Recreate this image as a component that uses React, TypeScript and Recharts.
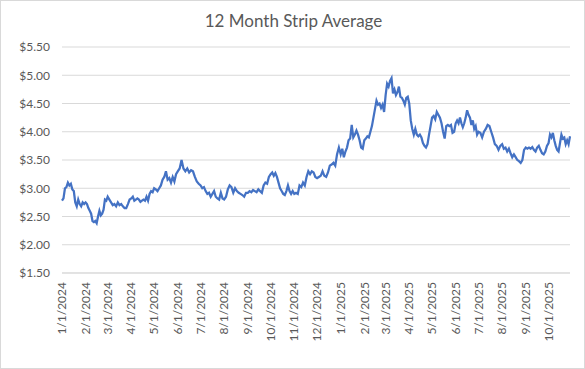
import { LineChart, Line, XAxis, YAxis, CartesianGrid } from 'recharts';

// month start labels on the x axis (also used as tick positions)
const monthLabels = [
  '1/1/2024', '2/1/2024', '3/1/2024', '4/1/2024', '5/1/2024', '6/1/2024',
  '7/1/2024', '8/1/2024', '9/1/2024', '10/1/2024', '11/1/2024', '12/1/2024',
  '1/1/2025', '2/1/2025', '3/1/2025', '4/1/2025', '5/1/2025', '6/1/2025',
  '7/1/2025', '8/1/2025', '9/1/2025', '10/1/2025',
];
const endLabel = '10/31/2025';

const yTicks = [1.5, 2, 2.5, 3, 3.5, 4, 4.5, 5, 5.5];

// readings through each month, $/MMBtu
const jan24 = [2.78, 2.82, 3.0, 3.02, 3.1, 3.05, 3.08, 2.98, 2.95, 2.75, 2.68, 2.8, 2.72, 2.68, 2.75, 2.72];
const feb24 = [2.75, 2.72, 2.65, 2.6, 2.55, 2.42, 2.4, 2.42, 2.38, 2.5, 2.6, 2.52, 2.55, 2.62, 2.8, 2.78];
const mar24 = [2.85, 2.8, 2.75, 2.7, 2.72, 2.68, 2.75, 2.7, 2.72, 2.68, 2.65, 2.65, 2.72, 2.8];
const apr24 = [2.82, 2.85, 2.78, 2.8, 2.82, 2.8, 2.76, 2.78, 2.8, 2.78, 2.85, 2.78, 2.9, 2.95, 2.93];
const may24 = [3.0, 2.98, 2.95, 3.0, 3.05, 3.15, 3.2, 3.3, 3.15, 3.18, 3.1, 3.2, 3.12, 3.25];
const jun24 = [3.3, 3.35, 3.5, 3.35, 3.3, 3.35, 3.28, 3.32, 3.3, 3.2, 3.12, 3.08];
const jul24 = [3.05, 3.0, 3.02, 2.95, 2.9, 2.92, 2.85, 2.9, 2.95, 2.85, 2.82, 2.8, 2.92, 2.82];
const aug24 = [2.8, 2.85, 2.98, 3.05, 3.02, 2.92, 3.0, 2.95, 2.92, 2.9, 2.88, 2.85, 2.92];
const sep24 = [2.92, 2.95, 2.93, 2.97, 2.95, 2.93, 2.98, 2.95, 2.92, 3.05, 3.1, 3.08, 3.2];
const oct24 = [3.25, 3.28, 3.22, 3.27, 3.2, 3.1, 3.0, 2.95, 2.9, 2.88, 2.95, 3.05, 2.95, 2.9, 2.95];
const nov24 = [2.9, 2.92, 2.9, 3.05, 3.02, 3.1, 3.05, 3.2, 3.3, 3.25, 3.3, 3.28, 3.2];
const dec24 = [3.18, 3.2, 3.22, 3.3, 3.22, 3.2, 3.28, 3.4, 3.42, 3.45, 3.4, 3.6, 3.72];
const jan25 = [3.6, 3.7, 3.55, 3.65, 3.72, 3.85, 3.88, 4.12, 3.9, 3.95, 4.02, 3.95, 3.85, 3.72, 3.7];
const feb25 = [3.85, 3.88, 3.92, 3.9, 4.0, 4.1, 4.25, 4.4, 4.55, 4.48, 4.5, 4.42, 4.48, 4.35];
const mar25 = [4.65, 4.85, 4.8, 4.9, 4.95, 4.68, 4.75, 4.65, 4.7, 4.8, 4.62, 4.6, 4.55, 4.48, 4.6, 4.62];
const apr25 = [4.5, 4.2, 4.05, 3.95, 4.05, 3.95, 3.92, 3.95, 3.9, 3.8, 3.75, 3.72, 3.78, 3.95, 4.1];
const may25 = [4.25, 4.28, 4.22, 4.35, 4.3, 4.25, 4.15, 4.0, 3.88, 4.1, 4.12, 4.1, 4.12, 3.98, 4.0];
const jun25 = [4.15, 4.2, 4.15, 4.25, 4.15, 4.08, 4.15, 4.25, 4.38, 4.3, 4.25, 4.12, 4.2, 4.05, 4.1, 3.95];
const jul25 = [4.0, 3.98, 3.9, 4.0, 4.05, 4.12, 4.1, 4.0, 3.9, 3.78, 3.75, 3.68, 3.75];
const aug25 = [3.78, 3.7, 3.72, 3.65, 3.7, 3.62, 3.55, 3.6, 3.55, 3.5, 3.48, 3.45, 3.5, 3.68];
const sep25 = [3.72, 3.7, 3.72, 3.7, 3.73, 3.68, 3.65, 3.72, 3.75, 3.68, 3.62, 3.6, 3.65, 3.75];
const oct25 = [3.8, 3.95, 3.9, 3.98, 3.85, 3.75, 3.68, 3.65, 3.8, 3.95, 3.88, 3.9, 3.78, 3.85, 3.78, 3.92];

const monthly = [
  jan24, feb24, mar24, apr24, may24, jun24, jul24, aug24, sep24, oct24, nov24, dec24,
  jan25, feb25, mar25, apr25, may25, jun25, jul25, aug25, sep25, oct25,
];

const toDay = (s: string) => {
  const [m, d, y] = s.split('/').map(Number);
  return Date.UTC(y, m - 1, d) / 86400000;
};

// spread each month's readings over that month
const data = monthly.flatMap((vals, i) => {
  const a = toDay(monthLabels[i]);
  const b = toDay(monthLabels[i + 1] ?? endLabel);
  return vals.map((v, k) => ({ t: a + (k * (b - a)) / vals.length, v }));
});

const tickDays = monthLabels.map(toDay);
const labelFor = (day: number) => monthLabels[tickDays.indexOf(day)] ?? '';

const FONT = 'Lato, "Open Sans", sans-serif';
const GREY = '#595959';

function DateTick({ x, y, payload }: any) {
  return (
    <g transform={`translate(${x},${y})`}>
      <text
        transform="rotate(-90)"
        x={-9}
        dy="0.35em"
        textAnchor="end"
        fill={GREY}
        fontSize={12}
        fontFamily={FONT}
      >
        {labelFor(payload.value)}
      </text>
    </g>
  );
}

export default function App() {
  return (
    <div
      style={{
        position: 'relative',
        width: 585,
        height: 369,
        boxSizing: 'border-box',
        border: '1px solid #d9d9d9',
        background: '#fff',
        fontFamily: FONT,
      }}
    >
      <style>{'body{margin:0}'}</style>
      <div
        style={{
          position: 'absolute',
          top: 9,
          left: 0,
          width: 585,
          textAlign: 'center',
          fontSize: 17,
          color: GREY,
        }}
      >
        12 Month Strip Average
      </div>
      <div style={{ position: 'absolute', left: -1, top: -1 }}>
        <LineChart
          width={585}
          height={369}
          data={data}
          margin={{ top: 47, right: 15, bottom: 36, left: 0 }}
        >
          <CartesianGrid vertical={false} stroke="#d9d9d9" strokeWidth={1} />
          <XAxis
            dataKey="t"
            type="number"
            domain={[tickDays[0], 'dataMax']}
            ticks={tickDays}
            interval={0}
            height={60}
            tick={<DateTick />}
            tickLine={false}
            tickSize={0}
            tickMargin={0}
            axisLine={{ stroke: '#d9d9d9' }}
          />
          <YAxis
            domain={[1.5, 5.5]}
            ticks={yTicks}
            width={62}
            tickLine={false}
            axisLine={false}
            tickSize={0}
            tickMargin={12}
            tickFormatter={(v: number) => `$${v.toFixed(2)}`}
            tick={{ fill: GREY, fontSize: 12, fontFamily: FONT }}
          />
          <Line
            type="linear"
            dataKey="v"
            stroke="#4472C4"
            strokeWidth={2.25}
            dot={false}
            isAnimationActive={false}
          />
        </LineChart>
      </div>
    </div>
  );
}
